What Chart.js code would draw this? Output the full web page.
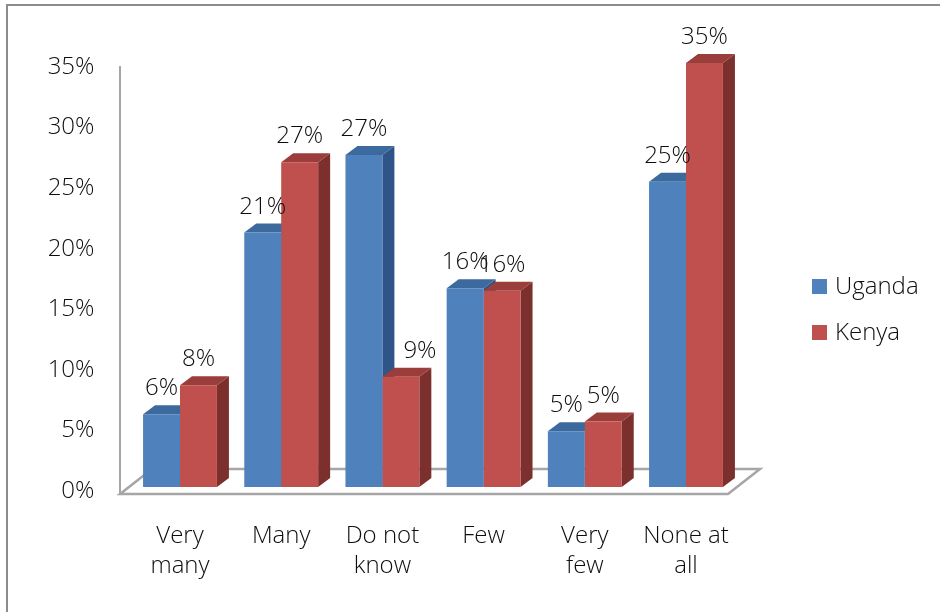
<!DOCTYPE html>
<html>
<head>
<meta charset="utf-8">
<script src="https://cdn.jsdelivr.net/npm/chart.js@4.4.1/dist/chart.umd.min.js"></script>
<style>
    body { margin: 0; background: #fff; }
    canvas { display: block; }
</style>
</head>
<body>
<canvas id="surveyChart" width="940" height="612"></canvas>
<script>
// chart data
const categories = [['Very', 'many'], 'Many', ['Do not', 'know'], 'Few', ['Very', 'few'], ['None at', 'all']];
const seriesNames = ['Uganda', 'Kenya'];
const ugandaValues = [6.0, 21.0, 27.4, 16.4, 4.6, 25.2];
const kenyaValues = [8.4, 26.8, 9.1, 16.2, 5.4, 35.0];
const yTicks = [0, 5, 10, 15, 20, 25, 30, 35];

const fontFamily = "'Open Sans', 'Liberation Sans', sans-serif";
const textColor = '#0d0d0d';
const depthX = 12, depthY = 9;
const frontColors = ['#4f81bd', '#c0504d'];
const faceColors = [
    { top: '#3d6a9e', side: '#2f5487' },
    { top: '#9b3d3a', side: '#7c302e' }
];

const bar3d = {
    id: 'bar3d',
    beforeDraw(chart) {
        const ctx = chart.ctx;
        ctx.save();
        ctx.strokeStyle = '#8c8c8c';
        ctx.lineWidth = 2;
        ctx.beginPath();
        ctx.moveTo(7, 612);
        ctx.lineTo(7, 5);
        ctx.lineTo(940, 5);
        ctx.stroke();
        ctx.restore();
    },
    beforeDatasetsDraw(chart) {
        const ctx = chart.ctx;
        const area = chart.chartArea;
        const fl = area.left - 9.4, fr = area.right - 8.6, fy = area.bottom + 7;

        ctx.save();
        // floor plate
        ctx.strokeStyle = '#a6a6a6';
        ctx.lineWidth = 2.5;
        ctx.fillStyle = '#ffffff';
        ctx.beginPath();
        ctx.moveTo(fl, fy);
        ctx.lineTo(fr, fy);
        ctx.lineTo(fr + 32, fy - 25);
        ctx.lineTo(fl + 32, fy - 25);
        ctx.closePath();
        ctx.fill();
        ctx.stroke();
        // left axis line
        ctx.lineWidth = 2;
        ctx.beginPath();
        ctx.moveTo(fl, area.top + 3);
        ctx.lineTo(fl, fy);
        ctx.stroke();

        // top and side faces, fronts are drawn by the chart afterwards
        chart.data.datasets.forEach(function(ds, di) {
            chart.getDatasetMeta(di).data.forEach(function(bar) {
                const l = bar.x - bar.width / 2, r = bar.x + bar.width / 2;
                const t = bar.y, b = bar.base;
                ctx.fillStyle = faceColors[di].side;
                ctx.beginPath();
                ctx.moveTo(r, t);
                ctx.lineTo(r + depthX, t - depthY);
                ctx.lineTo(r + depthX, b - depthY);
                ctx.lineTo(r, b);
                ctx.closePath();
                ctx.fill();
                ctx.fillStyle = faceColors[di].top;
                ctx.beginPath();
                ctx.moveTo(l, t);
                ctx.lineTo(l + depthX, t - depthY);
                ctx.lineTo(r + depthX, t - depthY);
                ctx.lineTo(r, t);
                ctx.closePath();
                ctx.fill();
            });
        });
        ctx.restore();
    },
    afterDatasetsDraw(chart) {
        const ctx = chart.ctx;
        ctx.save();
        ctx.font = '300 24px ' + fontFamily;
        ctx.fillStyle = textColor;
        ctx.textAlign = 'center';
        ctx.textBaseline = 'alphabetic';
        chart.data.datasets.forEach(function(ds, di) {
            chart.getDatasetMeta(di).data.forEach(function(bar, i) {
                const text = Math.round(ds.data[i]) + '%';
                const w = ctx.measureText(text).width;
                const y = bar.y - depthY - 10;
                let x = bar.x;
                // push the label clear of a taller neighbour's side face
                if (di > 0) {
                    const prev = chart.getDatasetMeta(di - 1).data[i];
                    if (prev.y < y - 20) {
                        x = Math.max(x, prev.x + prev.width / 2 + depthX + 9 + w / 2);
                    }
                }
                ctx.fillText(text, x, y);
            });
        });

        // legend
        ctx.textAlign = 'left';
        ctx.textBaseline = 'middle';
        chart.data.datasets.forEach(function(ds, di) {
            const y = 287 + di * 46;
            ctx.fillStyle = ds.backgroundColor;
            ctx.fillRect(812, y - 8, 15, 15);
            ctx.fillStyle = textColor;
            ctx.fillText(ds.label, 835, y);
        });
        ctx.restore();
    }
};

const tickFont = { family: fontFamily, size: 24, weight: '300', lineHeight: 1.25 };

new Chart(document.getElementById('surveyChart'), {
    type: 'bar',
    data: {
        labels: categories,
        datasets: [
            { label: seriesNames[0], data: ugandaValues, backgroundColor: frontColors[0] },
            { label: seriesNames[1], data: kenyaValues, backgroundColor: frontColors[1] }
        ]
    },
    options: {
        responsive: false,
        animation: false,
        devicePixelRatio: 1,
        layout: { padding: { left: 40, top: 63, right: 203.4, bottom: 25 } },
        datasets: { bar: { categoryPercentage: 0.73, barPercentage: 1 } },
        scales: {
            x: {
                grid: { display: false, drawTicks: false },
                border: { display: false },
                ticks: { color: textColor, font: tickFont, padding: 34, maxRotation: 0, autoSkip: false },
                afterFit: function(scale) { scale.height = 100; }
            },
            y: {
                min: yTicks[0],
                max: yTicks[yTicks.length - 1],
                grid: { display: false, drawTicks: false },
                border: { display: false },
                ticks: {
                    stepSize: yTicks[1] - yTicks[0],
                    color: textColor,
                    font: tickFont,
                    padding: 35,
                    labelOffset: 4,
                    callback: function(v) { return v + '%'; }
                },
                afterFit: function(scale) { scale.width = 89.4; }
            }
        },
        plugins: {
            legend: { display: false },
            tooltip: { enabled: false }
        }
    },
    plugins: [bar3d]
});
</script>
</body>
</html>
